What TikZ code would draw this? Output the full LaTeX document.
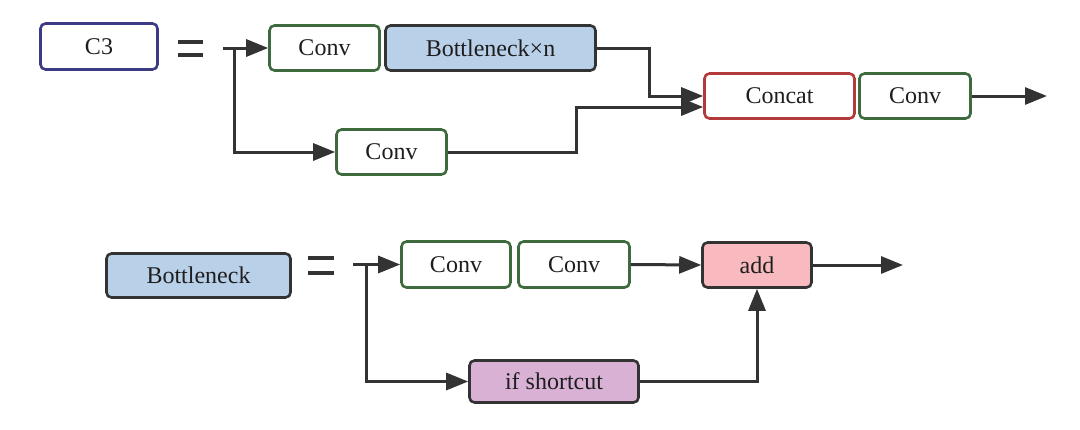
\documentclass[tikz,border=0pt]{standalone}
\usepackage{fontspec}
\setmainfont{Liberation Serif}
\usetikzlibrary{arrows.meta}
\definecolor{purpleb}{HTML}{3D3A85}
\definecolor{greenb}{HTML}{3D6B3D}
\definecolor{redb}{HTML}{B23A3A}
\definecolor{darkb}{HTML}{333333}
\definecolor{bluef}{HTML}{B9D0E9}
\definecolor{pinkf}{HTML}{F8BABE}
\definecolor{mauvef}{HTML}{D9B1D5}
\definecolor{txt}{HTML}{1E1E1E}
\tikzset{
  box/.style={draw, line width=2.6pt, rounded corners=5pt, inner sep=0pt,
    text=txt, font=\fontsize{24}{27}\selectfont},
  greenbox/.style={box, draw=greenb, fill=white},
  arr/.style={draw=darkb, line width=3pt, -{Triangle[length=22pt,width=17pt]}},
  eqbar/.style={draw=darkb, line width=4pt},
}
\begin{document}
\begin{tikzpicture}[x=1pt,y=-1pt]
\useasboundingbox[fill=white] (0,0) rectangle (1080,429);
% top row
\node[box, draw=purpleb, fill=white, minimum width=117pt, minimum height=46pt] (c3) at (99,46.5) {C3};
\draw[eqbar] (178,42) -- (203,42) (178,55) -- (203,55);
\node[greenbox, minimum width=110pt, minimum height=45pt] (conv1) at (324.5,48) {Conv};
\node[box, draw=darkb, fill=bluef, minimum width=210pt, minimum height=45pt] (bnn) at (490.5,48) {Bottleneck×n};
\node[greenbox, minimum width=110pt, minimum height=45pt] (conv2) at (391.5,152) {Conv};
\node[box, draw=redb, fill=white, minimum width=150pt, minimum height=45pt] (concat) at (779.5,96) {Concat};
\node[greenbox, minimum width=111pt, minimum height=45pt] (conv3) at (915,96) {Conv};
\coordinate (s1) at (223,48);
\coordinate (b1) at (234,48);
\coordinate (out1) at (1047,96);
\draw[arr] (s1) -- (conv1.west);
\draw[arr] (b1) |- (conv2.west);
\draw[arr] (bnn.east) -- ++(53,0) |- (concat.west);
\draw[arr] (conv2.east) -- ++(129,0) |- ([yshift=-11pt]concat.west);
\draw[arr] (conv3.east) -- (out1);
% bottom row
\node[box, draw=darkb, fill=bluef, minimum width=184pt, minimum height=44pt] (bn) at (198.5,275.5) {Bottleneck};
\draw[eqbar] (308,258) -- (334,258) (308,273) -- (334,273);
\node[greenbox, minimum width=109pt, minimum height=46pt] (conva) at (456,264.5) {Conv};
\node[greenbox, minimum width=111pt, minimum height=46pt] (convb) at (574,264.5) {Conv};
\node[box, draw=darkb, fill=pinkf, minimum width=109pt, minimum height=45pt] (add) at (757,265) {add};
\node[box, draw=darkb, fill=mauvef, minimum width=169pt, minimum height=42pt] (ifs) at (554,381.5) {if shortcut};
\coordinate (s2) at (353,264.5);
\coordinate (b2) at (366,264.5);
\coordinate (out2) at (903,265);
\draw[arr] (s2) -- (conva.west);
\draw[arr] (b2) |- (ifs.west);
\draw[arr] (convb.east) -- (add.west);
\draw[arr] (add.east) -- (out2);
\draw[arr] (ifs.east) -| (add.south);
\end{tikzpicture}
\end{document}
